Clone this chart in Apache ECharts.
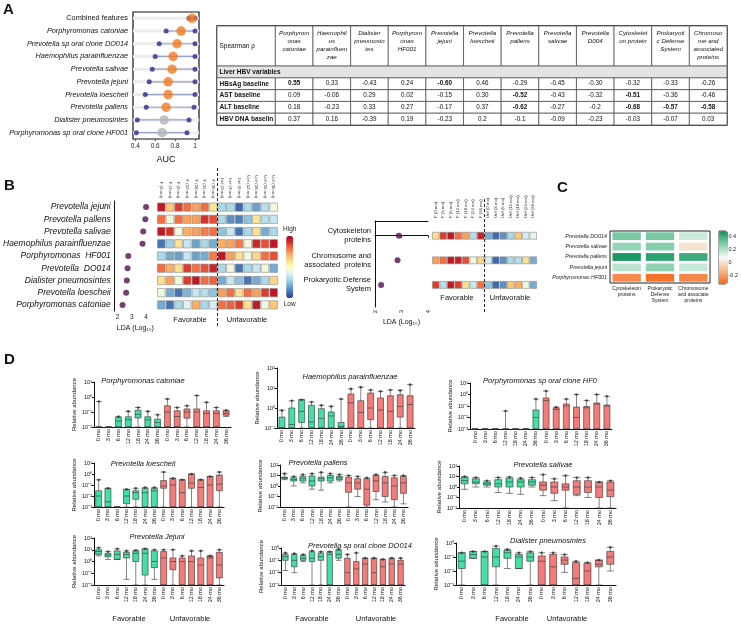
<!DOCTYPE html>
<html>
<head>
<meta charset="UTF-8">
<title></title>
<script src="https://cdn.jsdelivr.net/npm/echarts@6.0.0/dist/echarts.min.js"></script>
<style>html,body{margin:0;padding:0;background:#fff;}</style>
</head>
<body>
<div id="main" style="width:741px;height:630px;"></div>
<script>
// ---------- A: AUC dot plot ----------
var aucNames = ['Combined features', 'Porphyromonas catoniae', 'Prevotella sp oral clone DO014',
    'Haemophilus parainfluenzae', 'Prevotella salivae', 'Prevotella jejuni', 'Prevotella loescheii',
    'Prevotella pallens', 'Dialister pneumosintes', 'Porphyromonas sp oral clone HF001'];
var aucValue = [0.97, 0.86, 0.82, 0.78, 0.77, 0.73, 0.73, 0.71, 0.69, 0.67];
var aucLow = [0.94, 0.71, 0.64, 0.60, 0.57, 0.54, 0.50, 0.51, 0.42, 0.41];
var aucHigh = [1.0, 1.0, 1.0, 1.0, 1.0, 1.0, 1.0, 0.99, 0.94, 0.92];
var aucSig = [1, 1, 1, 1, 1, 1, 1, 1, 0, 0];

// ---------- A: Spearman table ----------
var tblHeaders = ['Porphyrom\nonas\ncatoniae', 'Haemophil\nus\nparainfluen\nzae', 'Dialister\npneumosin\ntes',
    'Porphyrom\nonas\nHF001', 'Prevotella\njejuni', 'Prevotella\nloescheii', 'Prevotella\npallens',
    'Prevotella\nsalivae', 'Prevotella\nD004', 'Cytoskelet\non protein', 'Prokaryoti\nc Defense\nSystem',
    'Chromoso\nme and\nassociated\nproteins'];
var tblRowNames = ['HBsAg baseline', 'AST baseline', 'ALT baseline', 'HBV DNA baseline'];
var rhoHBsAg = ['0.55', '0.33', '-0.43', '0.24', '-0.60', '0.46', '-0.29', '-0.45', '-0.30', '-0.32', '-0.33', '-0.26'];
var rhoAST = ['0.09', '-0.06', '0.29', '0.02', '-0.15', '0.30', '-0.52', '-0.43', '-0.32', '-0.51', '-0.36', '-0.46'];
var rhoALT = ['0.18', '-0.23', '0.33', '0.27', '-0.17', '0.37', '-0.62', '-0.27', '-0.2', '-0.68', '-0.57', '-0.58'];
var rhoHBV = ['0.37', '0.16', '-0.39', '0.19', '-0.23', '0.2', '-0.1', '-0.09', '-0.23', '-0.03', '-0.07', '0.03'];

// ---------- B: LDA + heatmaps ----------
var months = ['0 mo', '3 mo', '6 mo', '12 mo', '18 mo', '24 mo', '36 mo'];
var heatCols = months.map(function (m) { return 'F (' + m + ')'; })
    .concat(months.map(function (m) { return 'Unf (' + m + ')'; }));
var bNames = ['Prevotella jejuni', 'Prevotella pallens', 'Prevotella salivae', 'Haemophilus parainfluenzae',
    'Porphyromonas  HF001', 'Prevotella  DO014', 'Dialister pneumosintes', 'Prevotella loescheii', 'Porphyromonas catoniae'];
var bLda = [4.0, 3.95, 3.8, 3.75, 2.75, 2.7, 2.65, 2.6, 2.35];
var bHeat = [
    [0.95, 0.65, 0.88, 0.8, 0.72, 0.8, 0.58, 0.3, 0.3, 0.08, 0.3, 0.18, 0.32, 0.45],
    [0.8, 0.45, 0.8, 0.72, 0.72, 0.9, 0.85, 0.3, 0.15, 0.12, 0.25, 0.58, 0.32, 0.35],
    [0.95, 0.9, 0.45, 0.7, 0.72, 0.78, 0.8, 0.25, 0.35, 0.1, 0.3, 0.6, 0.2, 0.3],
    [0.1, 0.28, 0.6, 0.35, 0.18, 0.3, 0.2, 0.7, 0.72, 0.78, 0.45, 0.92, 0.85, 0.95],
    [0.3, 0.2, 0.18, 0.35, 0.18, 0.2, 0.78, 0.95, 0.72, 0.6, 0.45, 0.62, 0.8, 0.85],
    [0.8, 0.7, 0.6, 0.88, 0.8, 0.85, 0.93, 0.3, 0.45, 0.1, 0.3, 0.35, 0.45, 0.2],
    [0.6, 0.72, 0.45, 0.88, 0.95, 0.8, 0.82, 0.2, 0.35, 0.25, 0.1, 0.2, 0.3, 0.62],
    [0.45, 0.2, 0.1, 0.22, 0.35, 0.32, 0.25, 0.72, 0.8, 0.6, 0.8, 0.72, 0.88, 0.95],
    [0.2, 0.1, 0.3, 0.4, 0.7, 0.3, 0.38, 0.8, 0.82, 0.88, 0.6, 0.95, 0.45, 0.65]
];
var fNames = ['Cytoskeleton\nproteins', 'Chromosome and\nassociated  proteins', 'Prokaryotic Defense\nSystem'];
var fLda = [2.9, 2.85, 2.23];
var fHeat = [
    [0.6, 0.88, 0.95, 0.8, 0.72, 0.32, 0.93, 0.2, 0.08, 0.15, 0.3, 0.65, 0.38, 0.42],
    [0.72, 0.8, 0.95, 0.93, 0.85, 0.45, 0.62, 0.38, 0.08, 0.15, 0.3, 0.32, 0.6, 0.2],
    [0.88, 0.32, 0.95, 0.88, 0.6, 0.35, 0.8, 0.25, 0.08, 0.15, 0.65, 0.7, 0.45, 0.2]
];

// ---------- C: correlation heatmap ----------
var cCols = ['Cytoskeleton\nproteins', 'Prokaryotic\nDefense\nSystem', 'Chromosome\nand associate\nproteins'];
var cRows = ['Prevotella DO014', 'Prevotella salivae', 'Prevotella pallens', 'Prevotella jejuni', 'Porphyromonas HF001'];
var cDO014 = [0.30, 0.30, 0.15];
var cSalivae = [0.25, 0.28, 0];
var cPallens = [0.46, 0.43, 0.40];
var cJejuni = [0.18, 0.26, 0.16];
var cHF001 = [-0.24, -0.30, -0.25];

// ---------- D: relative abundance boxplots [min, q1, median, q3, max] ----------
var dCatoniae = [[0.01,0.01,0.01,0.01,0.5],[0.01,0.01,0.01,0.01,0.01],[0.01,0.01,0.025,0.043,0.05],[0.01,0.01,0.03,0.048,0.11],
    [0.01,0.04,0.07,0.13,0.2],[0.01,0.01,0.03,0.048,0.11],[0.01,0.01,0.02,0.033,0.065],[0.01,0.01,0.1,0.26,0.74],
    [0.01,0.01,0.05,0.12,0.2],[0.01,0.039,0.1,0.16,0.26],[0.01,0.01,0.1,0.16,1.26],[0.01,0.01,0.08,0.12,0.44],
    [0.01,0.01,0.08,0.12,0.2],[0.05,0.06,0.08,0.12,0.13]];
var dHaemophilus = [[0.1,0.1,0.1,0.35,0.76],[0.1,0.1,0.15,1.0,2.3],[0.1,0.19,0.68,2.6,2.6],[0.1,0.1,0.2,1.36,2.0],
    [0.1,0.1,0.3,0.93,1.36],[0.1,0.1,0.4,0.63,1.2],[0.1,0.1,0.12,0.19,2.8],[0.1,0.1,1.8,5,9],
    [0.1,0.1,0.6,2.3,11],[0.1,0.26,1,5.6,8],[0.1,0.1,0.8,3.2,6.8],[0.1,0.1,0.68,4.1,8],
    [0.1,0.35,1.2,4.6,7.6],[0.1,0.1,1.5,4.1,14.7]];
var dHF001 = [[0.001,0.001,0.001,0.001,0.001],[0.001,0.001,0.001,0.001,0.001],[0.001,0.001,0.001,0.001,0.001],[0.001,0.001,0.001,0.001,0.037],
    [0.001,0.001,0.001,0.001,0.001],[0.001,0.001,0.001,0.001,0.001],[0.001,0.001,0.01,0.045,0.4],[0.001,0.001,0.3,0.5,2],
    [0.001,0.001,0.05,0.07,0.08],[0.001,0.001,0.1,0.15,0.4],[0.001,0.001,0.01,0.08,1],[0.001,0.001,0.07,0.09,0.3],
    [0.001,0.001,0.15,0.18,1],[0.001,0.001,0.1,0.12,0.7]];
var dLoescheii = [[0.001,0.001,0.01,0.03,0.3],[0.001,0.001,0.003,0.05,0.05],[0.001,0.001,0.001,0.001,0.001],[0.001,0.002,0.01,0.04,0.04],
    [0.001,0.005,0.02,0.03,0.05],[0.001,0.001,0.02,0.05,0.06],[0.001,0.001,0.03,0.05,0.06],[0.001,0.05,0.08,0.25,1.5],
    [0.001,0.001,0.1,0.4,0.4],[0.001,0.001,0.02,0.3,0.3],[0.001,0.05,0.15,1.0,1.0],[0.001,0.001,0.06,0.3,0.3],
    [0.001,0.001,0.1,0.6,0.6],[0.001,0.03,0.12,0.8,1.5]];
var dPallens = [[4,5,6,7,15],[1,3,4,6,8],[2,3,5,8,12],[0.5,1,3,9,15],[0.4,3,5,7,20],[2,3,6,10,15],[3,4,6,8,12],
    [0.01,0.25,2,7,10],[0.1,0.5,2,5,8],[0.01,0.015,0.5,5,6],[0.05,0.3,3,10,12],[0.03,0.1,2,8,20],[0.01,0.05,1,6,10],[0.02,0.2,2,8,10]];
var dSalivae = [[0.6,2,4,8,10],[1,2,3,6,8],[1,1.5,2,3,4],[0.3,1,2,5,8],[0.25,1,3,7,9],[0.2,1,3,5,7],[1,1.5,3,5,8],
    [0.15,0.5,1.5,3,15],[0.05,0.25,1,3,6],[0.01,0.5,1,2,12],[0.15,0.2,1,4,8],[0.1,0.3,1,4,8],[0.01,0.1,1,3,3],[0.01,0.12,0.5,3,4]];
var dJejuni = [[3,4,7,10,15],[1.5,2.5,3.5,5,7],[1.5,1.5,4,8,12],[0.03,2,4,6,8],[0.01,1,5,8,9],[0.01,0.07,5,12,12],[0.03,0.3,1,8,10],
    [0.01,0.01,2,7,10],[0.01,0.2,1,2,10],[0.01,0.01,1,2,3],[0.01,0.01,1,3,8],[0.01,0.01,0.5,2,8],[0.01,0.01,2,3,3],[0.01,0.04,0.5,6,10]];
var dDO014 = [[0.015,0.1,0.2,0.3,0.4],[0.01,0.03,0.1,0.3,0.35],[0.08,0.1,0.15,0.25,0.3],[0.001,0.08,0.15,0.5,0.6],
    [0.001,0.1,0.2,0.4,0.5],[0.001,0.001,0.3,0.5,0.5],[0.1,0.15,0.3,0.7,0.8],[0.001,0.001,0.01,0.15,0.3],
    [0.001,0.001,0.02,0.08,0.4],[0.001,0.001,0.05,0.15,0.15],[0.001,0.001,0.01,0.15,0.15],[0.001,0.001,0.03,0.12,0.12],
    [0.001,0.001,0.05,0.15,0.15],[0.001,0.001,0.05,0.1,0.15]];
var dDialister = [[0.001,0.015,0.05,0.2,0.2],[0.08,0.08,0.15,0.25,0.25],[0.001,0.001,0.1,0.25,0.25],[0.001,0.02,0.1,0.4,0.6],
    [0.015,0.08,0.2,0.3,0.35],[0.015,0.015,0.1,0.15,0.2],[0.001,0.05,0.1,0.2,0.25],[0.001,0.001,0.05,0.12,0.2],
    [0.001,0.001,0.02,0.15,0.2],[0.008,0.03,0.06,0.1,0.15],[0.001,0.001,0.003,0.04,0.05],[0.001,0.001,0.01,0.035,0.04],
    [0.001,0.02,0.03,0.06,0.06],[0.01,0.03,0.1,0.25,0.5]];

// ---------------------------------------------------------------------
var FONT = '"Liberation Sans", Arial, sans-serif';
var FAV = '#43dfa3', UNF = '#f37c7a';
var RDYLBU = ['#313695', '#4575b4', '#74add1', '#abd9e9', '#e0f3f8', '#ffffbf', '#fee090', '#fdae61', '#f46d43', '#d73027', '#a50026'];

var grids = [], xAxes = [], yAxes = [], series = [], graphics = [];

function addGrid(g, x, y) {
    grids.push(g);
    x.gridIndex = grids.length - 1;
    y.gridIndex = grids.length - 1;
    xAxes.push(x);
    yAxes.push(y);
    return {xAxisIndex: xAxes.length - 1, yAxisIndex: yAxes.length - 1};
}

function txt(x, y, s, o) {
    o = o || {};
    graphics.push({
        type: 'text', x: x, y: y, silent: true,
        style: {
            text: s, fill: o.color || '#111', fontSize: o.size || 8, fontFamily: FONT,
            fontStyle: o.italic ? 'italic' : 'normal', fontWeight: o.bold ? 'bold' : 'normal',
            align: o.align || 'left', verticalAlign: o.va || 'top',
            textAlign: o.align || 'left', textVerticalAlign: o.va || 'top'
        }
    });
}

// panel letters
txt(3, 2, 'A', {size: 15, bold: true});
txt(4, 178, 'B', {size: 15, bold: true});
txt(557, 180, 'C', {size: 15, bold: true});
txt(4, 352, 'D', {size: 15, bold: true});

// ---------- A: dot plot ----------
var a = addGrid({left: 133, top: 12, width: 66, height: 127, show: true, borderColor: '#111', borderWidth: 1.2},
    {type: 'value', min: 0.377, max: 1.04, name: 'AUC', nameLocation: 'middle', nameGap: 16,
        nameTextStyle: {fontSize: 9, fontFamily: FONT, color: '#111'},
        axisLine: {show: false}, splitLine: {show: false},
        axisTick: {show: true, length: 2, customValues: [0.4, 0.6, 0.8, 1]},
        axisLabel: {customValues: [0.4, 0.6, 0.8, 1], fontSize: 6.5, fontFamily: FONT, color: '#222', margin: 4,
            formatter: function (v) { return v === 1 ? '1' : String(v); }}},
    {type: 'category', inverse: true, data: aucNames, axisLine: {show: false}, axisTick: {show: false},
        axisLabel: {margin: 5, interval: 0, fontFamily: FONT, color: '#111',
            formatter: function (v, i) { return i === 0 ? '{n|' + v + '}' : '{i|' + v + '}'; },
            rich: {n: {fontSize: 7.3, fontFamily: FONT}, i: {fontSize: 7.3, fontStyle: 'italic', fontFamily: FONT}}}});
series.push({
    type: 'custom', xAxisIndex: a.xAxisIndex, yAxisIndex: a.yAxisIndex, silent: true,
    data: aucNames.map(function (n, i) { return [i, aucLow[i], aucHigh[i]]; }),
    encode: {y: 0, x: [1, 2]},
    renderItem: function (params, api) {
        var lo = api.coord([api.value(1), api.value(0)]);
        var hi = api.coord([api.value(2), api.value(0)]);
        var cs = params.coordSys;
        return {type: 'group', children: [
            {type: 'line', shape: {x1: cs.x, y1: lo[1], x2: cs.x + cs.width, y2: lo[1]}, style: {stroke: '#ececec', lineWidth: 3}},
            {type: 'line', shape: {x1: lo[0], y1: lo[1], x2: hi[0], y2: hi[1]}, style: {stroke: '#98a6c6', lineWidth: 1.2}}
        ]};
    }
});
series.push({
    type: 'scatter', xAxisIndex: a.xAxisIndex, yAxisIndex: a.yAxisIndex, symbolSize: 5, silent: true,
    itemStyle: {color: '#2c2a8c'},
    data: aucLow.map(function (v, i) { return [v, i]; }).concat(aucHigh.map(function (v, i) { return [v, i]; }))
});
series.push({
    type: 'scatter', xAxisIndex: a.xAxisIndex, yAxisIndex: a.yAxisIndex, symbolSize: 9.5, silent: true,
    data: aucValue.map(function (v, i) {
        return {value: [v, i], itemStyle: {color: aucSig[i] ? '#f37a22' : '#b4b4b4'}};
    })
});

// ---------- A: table ----------
var colEdges = [0, 1.55];
for (var ci = 1; ci <= tblHeaders.length; ci++) colEdges.push(1.55 + ci);
var rowEdges = [0, 3.4, 4.4, 5.4, 6.4, 7.4, 8.4];
var rhoRows = [rhoHBsAg, rhoAST, rhoALT, rhoHBV];
var tblCells = [{c: 0, r: 0, t: 'Spearman ρ', kind: 'corner'}];
tblHeaders.forEach(function (h, j) { tblCells.push({c: j + 1, r: 0, t: h, kind: 'head'}); });
tblCells.push({c: 0, r: 1, t: 'Liver HBV variables', kind: 'group'});
tblRowNames.forEach(function (n, k) {
    tblCells.push({c: 0, r: k + 2, t: n, kind: 'rowname'});
    rhoRows[k].forEach(function (v, j) { tblCells.push({c: j + 1, r: k + 2, t: v, kind: 'val'}); });
});
var tb = addGrid({left: 217, top: 26, width: 510, height: 99, show: true, borderColor: '#222', borderWidth: 1.3},
    {type: 'value', min: 0, max: colEdges[colEdges.length - 1], show: false},
    {type: 'value', min: 0, max: 8.4, inverse: true, show: false});
series.push({
    type: 'custom', xAxisIndex: tb.xAxisIndex, yAxisIndex: tb.yAxisIndex, silent: true,
    data: tblCells.map(function (d) { return [colEdges[d.c], rowEdges[d.r]]; }),
    renderItem: function (params, api) {
        var d = tblCells[params.dataIndex];
        var x1 = d.kind === 'group' ? colEdges[colEdges.length - 1] : colEdges[d.c + 1];
        var p0 = api.coord([colEdges[d.c], rowEdges[d.r]]);
        var p1 = api.coord([x1, rowEdges[d.r + 1]]);
        var w = p1[0] - p0[0], h = p1[1] - p0[1];
        var st = {text: d.t, fill: '#111', fontFamily: FONT, fontSize: 6.3, verticalAlign: 'middle', align: 'left',
            x: p0[0] + 2.5, y: p0[1] + h / 2};
        if (d.kind === 'head') {
            st.fontStyle = 'italic'; st.align = 'center'; st.verticalAlign = 'top';
            st.x = p0[0] + w / 2; st.y = p0[1] + 3; st.lineHeight = 8; st.fontSize = 6.2;
        } else if (d.kind === 'corner') {
            st.fontSize = 6.5;
        } else if (d.kind === 'group' || d.kind === 'rowname') {
            st.fontWeight = 'bold'; st.fontSize = 6.5;
            st.width = w - 3; st.overflow = 'truncate'; st.ellipsis = '';
        } else {
            st.align = 'center'; st.x = p0[0] + w / 2;
            if (Math.abs(parseFloat(d.t)) >= 0.5) st.fontWeight = 'bold';
        }
        return {type: 'group', children: [
            {type: 'rect', shape: {x: p0[0], y: p0[1], width: w, height: h},
                style: {fill: d.kind === 'group' ? '#e4e4e4' : '#fff', stroke: '#444', lineWidth: 0.7}},
            {type: 'text', style: st}
        ]};
    }
});

// ---------- B: left LDA dots ----------
var bl = addGrid({left: 113, top: 201, width: 43, height: 110},
    {type: 'value', min: 1.8, max: 4.7, position: 'bottom', splitLine: {show: false},
        axisLine: {lineStyle: {color: '#111'}}, axisTick: {length: 2, customValues: [2, 3, 4]},
        axisLabel: {customValues: [2, 3, 4], fontSize: 6.5, fontFamily: FONT, color: '#222', margin: 3},
        name: 'LDA (Log\u2081\u2080)', nameLocation: 'middle', nameGap: 14,
        nameTextStyle: {fontSize: 7, fontFamily: FONT, color: '#111'}},
    {type: 'category', inverse: true, data: bNames,
        axisLine: {lineStyle: {color: '#111'}}, axisTick: {length: 3, lineStyle: {color: '#111'}},
        axisLabel: {fontSize: 8.5, interval: 0, fontStyle: 'italic', fontFamily: FONT, color: '#111', margin: 4}});
xAxes.push({gridIndex: grids.length - 1, type: 'value', min: 1.8, max: 4.7, position: 'top',
    axisLine: {lineStyle: {color: '#111'}}, axisTick: {length: 2, customValues: [2, 3, 4]},
    axisLabel: {show: false}, splitLine: {show: false}});
series.push({
    type: 'scatter', xAxisIndex: bl.xAxisIndex, yAxisIndex: bl.yAxisIndex, symbolSize: 6, silent: true,
    itemStyle: {color: '#54104f'},
    data: bLda.map(function (v, i) { return [v, i]; })
});

// heatmap cell renderer (fractions of the band, or px when >= 1)
function cellRenderer(cw, ch, stroke) {
    return function (params, api) {
        var p = api.coord([api.value(0), api.value(1)]);
        var s = api.size([1, 1]);
        var w = cw < 1 ? s[0] * cw : cw, h = ch < 1 ? s[1] * ch : ch;
        return {type: 'rect', shape: {x: p[0] - w / 2, y: p[1] - h / 2, width: w, height: h},
            style: {fill: api.visual('color'), stroke: stroke, lineWidth: stroke ? 0.6 : 0}};
    };
}
function heatData(rows) {
    var out = [];
    rows.forEach(function (row, r) { row.forEach(function (v, c) { out.push([c, r, v]); }); });
    return out;
}
var colLabel = {fontSize: 4.3, fontFamily: FONT, color: '#333', rotate: 90, interval: 0, margin: 3};

var bh = addGrid({left: 157, top: 201, width: 121, height: 110},
    {type: 'category', data: heatCols, position: 'top', axisLine: {show: false}, axisTick: {show: false}, axisLabel: colLabel},
    {type: 'category', inverse: true, data: bNames, axisLine: {show: false},
        axisTick: {length: 3, lineStyle: {color: '#333'}}, axisLabel: {show: false}});
var heatSeries = [];
heatSeries.push(series.length);
series.push({
    type: 'custom', xAxisIndex: bh.xAxisIndex, yAxisIndex: bh.yAxisIndex, silent: true,
    data: heatData(bHeat), encode: {x: 0, y: 1}, renderItem: cellRenderer(0.88, 0.68, '#8a8a8a')
});
// dashed divider favorable / unfavorable
var bd = addGrid({left: 157, top: 168, width: 121, height: 158},
    {type: 'value', min: 0, max: heatCols.length, show: false},
    {type: 'value', min: 0, max: 1, show: false});
series.push({type: 'line', xAxisIndex: bd.xAxisIndex, yAxisIndex: bd.yAxisIndex, symbol: 'none', silent: true,
    lineStyle: {color: '#111', width: 0.9, type: [3, 2]}, data: [[months.length, 0], [months.length, 1]]});
txt(190, 316, 'Favorable', {size: 7.5, align: 'center'});
txt(247, 316, 'Unfavorable', {size: 7.5, align: 'center'});

// ---------- B: middle (functions) ----------
var fm = addGrid({left: 375, top: 221, width: 53, height: 86},
    {type: 'value', min: 2, max: 4, interval: 1, splitLine: {show: false},
        axisLine: {lineStyle: {color: '#111'}}, axisTick: {length: 2},
        axisLabel: {fontSize: 6, fontFamily: FONT, color: '#222', rotate: 90, margin: 3},
        name: 'LDA (Log\u2081\u2080)', nameLocation: 'middle', nameGap: 12,
        nameTextStyle: {fontSize: 7, fontFamily: FONT, color: '#111'}},
    {type: 'value', min: -0.6, max: 2.9, inverse: true, splitLine: {show: false},
        axisLine: {lineStyle: {color: '#111'}}, axisTick: {show: false},
        axisLabel: {customValues: [0, 1, 2], fontSize: 7.5, fontFamily: FONT, color: '#111', margin: 4, lineHeight: 9,
            formatter: function (v) { return fNames[Math.round(v)]; }}});
xAxes.push({gridIndex: grids.length - 1, type: 'value', min: 2, max: 4, position: 'top',
    axisLine: {lineStyle: {color: '#111'}}, axisTick: {show: false}, axisLabel: {show: false}, splitLine: {show: false}});
series.push({
    type: 'scatter', xAxisIndex: fm.xAxisIndex, yAxisIndex: fm.yAxisIndex, symbolSize: 6, silent: true,
    itemStyle: {color: '#54104f'},
    data: fLda.map(function (v, i) { return [v, i]; })
});
var fh = addGrid({left: 432, top: 221, width: 105, height: 86},
    {type: 'category', data: heatCols, position: 'top', axisLine: {show: false}, axisTick: {show: false}, axisLabel: colLabel},
    {type: 'value', min: -0.6, max: 2.9, inverse: true, splitLine: {show: false}, axisLine: {show: false},
        axisTick: {customValues: [0, 1, 2], length: 3, lineStyle: {color: '#333'}}, axisLabel: {show: false}});
heatSeries.push(series.length);
series.push({
    type: 'custom', xAxisIndex: fh.xAxisIndex, yAxisIndex: fh.yAxisIndex, silent: true,
    data: heatData(fHeat), encode: {x: 0, y: 1}, renderItem: cellRenderer(0.88, 7, '#8a8a8a')
});
var fd = addGrid({left: 432, top: 197, width: 105, height: 115},
    {type: 'value', min: 0, max: heatCols.length, show: false},
    {type: 'value', min: 0, max: 1, show: false});
series.push({type: 'line', xAxisIndex: fd.xAxisIndex, yAxisIndex: fd.yAxisIndex, symbol: 'none', silent: true,
    lineStyle: {color: '#111', width: 0.9, type: [3, 2]}, data: [[months.length, 0], [months.length, 1]]});
txt(457, 294, 'Favorable', {size: 7.5, align: 'center'});
txt(510, 294, 'Unfavorable', {size: 7.5, align: 'center'});

// ---------- C ----------
var cRowsData = [cDO014, cSalivae, cPallens, cJejuni, cHF001];
var cg = addGrid({left: 610, top: 231, width: 100, height: 52, show: true, borderColor: '#222', borderWidth: 1},
    {type: 'category', data: cCols, axisLine: {show: false}, axisTick: {length: 2},
        axisLabel: {fontSize: 5, fontFamily: FONT, color: '#222', interval: 0, lineHeight: 6, margin: 3}},
    {type: 'category', data: cRows, inverse: true, axisLine: {show: false}, axisTick: {length: 2},
        axisLabel: {fontSize: 5.3, interval: 0, fontStyle: 'italic', fontFamily: FONT, color: '#222', margin: 3}});
var cSeriesIndex = series.length;
series.push({
    type: 'custom', xAxisIndex: cg.xAxisIndex, yAxisIndex: cg.yAxisIndex, silent: true,
    data: heatData(cRowsData), encode: {x: 0, y: 1},
    renderItem: function (params, api) {
        var p = api.coord([api.value(0), api.value(1)]);
        var s = api.size([1, 1]);
        var w = s[0] - 5, h = s[1] - 2.6;
        return {type: 'rect', shape: {x: p[0] - w / 2, y: p[1] - h / 2, width: w, height: h},
            style: {fill: api.visual('color')}};
    }
});
// colour bar axis for C
addGrid({left: 719, top: 231, width: 9, height: 53, show: true, borderColor: '#222', borderWidth: 0.8},
    {type: 'value', show: false, min: 0, max: 1},
    {type: 'value', min: -0.33, max: 0.48, position: 'right', splitLine: {show: false},
        axisLine: {show: false}, axisTick: {customValues: [-0.2, 0, 0.2, 0.4], length: 2, lineStyle: {color: '#222'}},
        axisLabel: {customValues: [-0.2, 0, 0.2, 0.4], fontSize: 5.5, fontFamily: FONT, color: '#222', margin: 3}});

// ---------- D ----------
var dPlots = [
    {name: 'Porphyromonas catoniae', data: dCatoniae, min: 0.01, max: 10, left: 94, top: 382, width: 137, height: 45, tx: 143, ty: 377, bw: 6},
    {name: 'Haemophilus parainfluenzae', data: dHaemophilus, min: 0.1, max: 100, left: 277, top: 368, width: 138, height: 60, tx: 350, ty: 373, bw: 6},
    {name: 'Porphyromonas sp oral clone HF0', data: dHF001, min: 0.001, max: 10, left: 470, top: 383, width: 142, height: 46, tx: 540, ty: 377, bw: 6},
    {name: 'Prevotella loescheii', data: dLoescheii, min: 0.001, max: 10, left: 94, top: 463, width: 130, height: 44, tx: 143, ty: 460, bw: 6},
    {name: 'Prevotella pallens', data: dPallens, min: 0.01, max: 100, left: 280, top: 465, width: 128, height: 42, tx: 318, ty: 459, bw: 6},
    {name: 'Prevotella salivae', data: dSalivae, min: 0.01, max: 100, left: 459, top: 466, width: 157, height: 42, tx: 543, ty: 461, bw: 7},
    {name: 'Prevotella Jejuni', data: dJejuni, min: 0.01, max: 100, left: 94, top: 538, width: 130, height: 47, tx: 157, ty: 533, bw: 6},
    {name: 'Prevotella sp oral clone DO014', data: dDO014, min: 0.001, max: 1, left: 281, top: 548, width: 124, height: 37, tx: 360, ty: 542, bw: 5.5},
    {name: 'Dialister pneumosintes', data: dDialister, min: 0.001, max: 1, left: 456, top: 543, width: 160, height: 42, tx: 548, ty: 537, bw: 7}
];
var supMap = {'-': '\u207b', '0': '\u2070', '1': '\u00b9', '2': '\u00b2', '3': '\u00b3'};
function powLabel(v) {
    var e = String(Math.round(Math.log(v) / Math.LN10));
    return '10' + e.split('').map(function (ch) { return supMap[ch]; }).join('');
}
var dCats = months.concat(months);
dPlots.forEach(function (p) {
    var g = addGrid({left: p.left, top: p.top, width: p.width, height: p.height},
        {type: 'category', data: dCats, axisLine: {lineStyle: {color: '#111'}}, axisTick: {length: 2, interval: 0},
            axisLabel: {fontSize: 5.5, fontFamily: FONT, color: '#111', rotate: 90, interval: 0, margin: 2}},
        {type: 'log', logBase: 10, min: p.min, max: p.max, splitLine: {show: false},
            axisLine: {show: true, lineStyle: {color: '#111'}}, axisTick: {show: true, length: 2},
            axisLabel: {fontSize: 5.5, fontFamily: FONT, color: '#111', margin: 2, formatter: powLabel},
            name: 'Relative abundance', nameLocation: 'middle', nameGap: 17, nameRotate: 90,
            nameTextStyle: {fontSize: 6, fontFamily: FONT, color: '#111'}});
    series.push({
        type: 'boxplot', xAxisIndex: g.xAxisIndex, yAxisIndex: g.yAxisIndex, silent: true, boxWidth: [p.bw, p.bw],
        data: p.data.map(function (d, i) {
            return {value: d, itemStyle: {color: i < months.length ? FAV : UNF, borderColor: '#333', borderWidth: 0.6}};
        })
    });
    series.push({
        type: 'scatter', xAxisIndex: g.xAxisIndex, yAxisIndex: g.yAxisIndex, silent: true, symbolSize: 2.6,
        itemStyle: {color: '#333'},
        data: p.data.map(function (d, i) { return [i, d[4]]; }).filter(function (d) { return d[1] > p.min; })
    });
    txt(p.tx, p.ty, p.name, {size: 7.5, italic: true, align: 'center'});
});
txt(129, 615, 'Favorable', {size: 7.5, align: 'center'});
txt(190, 615, 'Unfavorable', {size: 7.5, align: 'center'});
txt(312, 615, 'Favorable', {size: 7.5, align: 'center'});
txt(376, 615, 'Unfavorable', {size: 7.5, align: 'center'});
txt(512, 615, 'Favorable', {size: 7.5, align: 'center'});
txt(567, 615, 'Unfavorable', {size: 7.5, align: 'center'});

var chart = echarts.init(document.getElementById('main'));
chart.setOption({
    animation: false,
    textStyle: {fontFamily: FONT},
    grid: grids,
    xAxis: xAxes,
    yAxis: yAxes,
    visualMap: [
        {type: 'continuous', min: 0, max: 1, dimension: 2, seriesIndex: heatSeries, orient: 'vertical',
            left: 283, top: 226, itemWidth: 7, itemHeight: 62, padding: 0, calculable: false,
            text: ['High', 'Low'], textGap: 3, textStyle: {fontSize: 6.5, color: '#222', fontFamily: FONT},
            inRange: {color: RDYLBU}},
        {type: 'continuous', min: -0.33, max: 0.48, dimension: 2, seriesIndex: [cSeriesIndex], orient: 'vertical',
            left: 719, top: 231, itemWidth: 9, itemHeight: 53, padding: 0, calculable: false,
            inRange: {color: ['#f2661c', '#f9b98c', '#f2faf6', '#86cfad', '#10925c']}}
    ],
    graphic: graphics,
    series: series
});
</script>
</body>
</html>
